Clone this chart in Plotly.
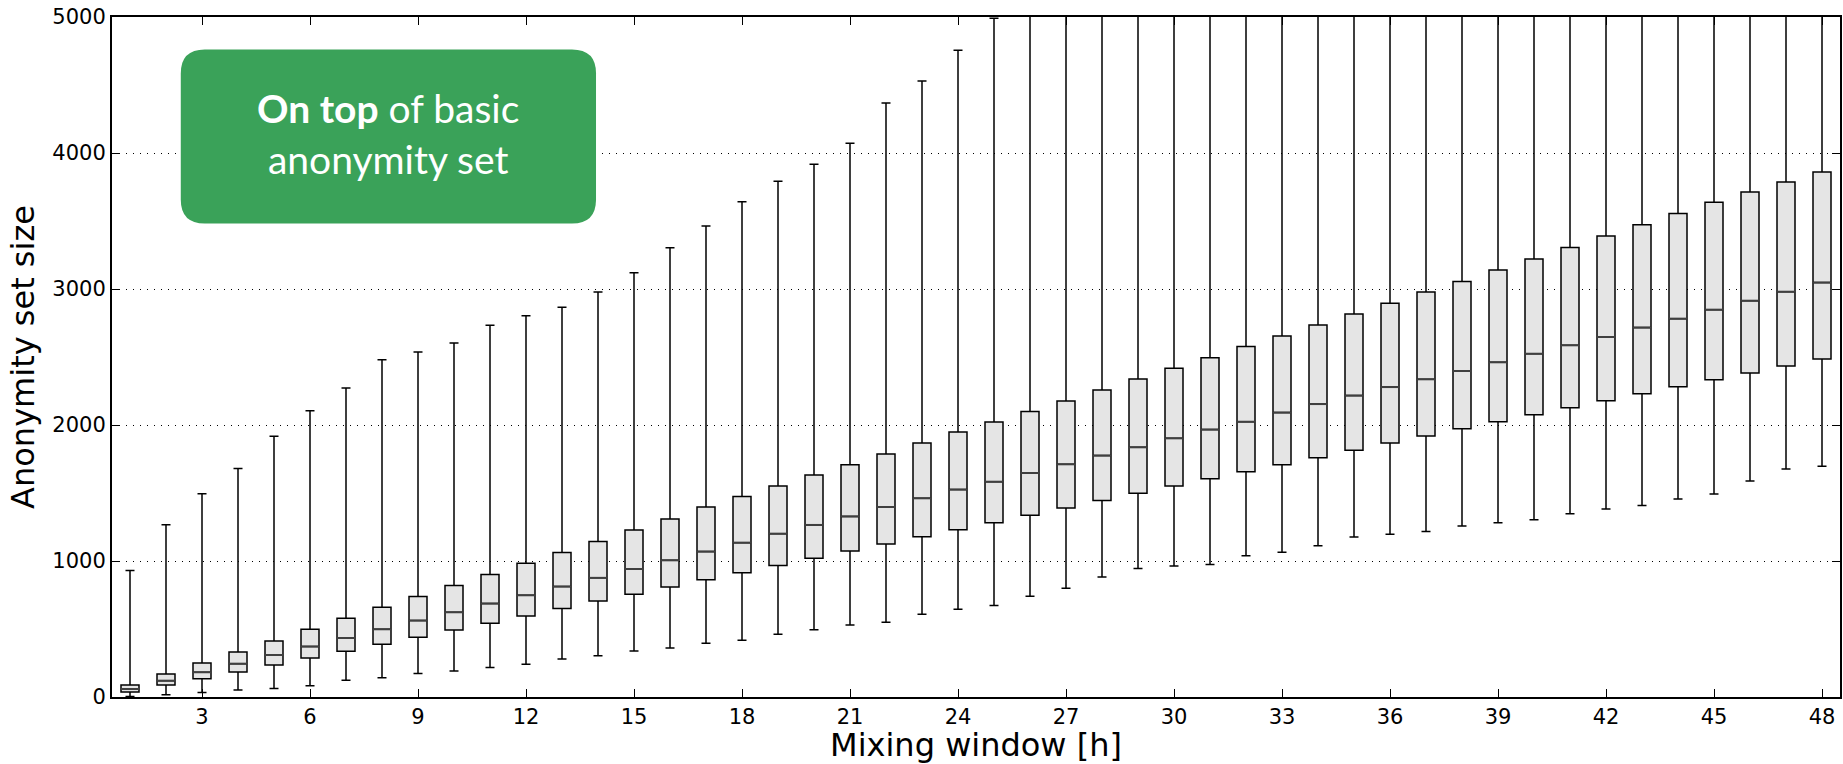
import plotly.graph_objects as go

# Mixing window length in hours
hours = list(range(1, 49))

# Distribution of the anonymity set size per mixing window
whisker_low = [3, 17, 34, 51, 63, 83, 123, 142, 172, 191, 216, 240, 280, 304, 338, 360,
               395, 417, 461, 495, 529, 549, 608, 645, 672, 740, 799, 882, 944, 963, 975, 1039,
               1064, 1113, 1176, 1196, 1216, 1257, 1282, 1304, 1348, 1382, 1409, 1456, 1493, 1588, 1676, 1696]
q1 = [37, 88, 135, 184, 236, 287, 336, 388, 439, 493, 542, 596, 650, 705, 755, 809,
      863, 914, 966, 1020, 1074, 1125, 1179, 1230, 1282, 1336, 1390, 1444, 1498, 1551, 1605, 1657,
      1708, 1760, 1814, 1868, 1919, 1973, 2024, 2076, 2127, 2179, 2230, 2282, 2333, 2382, 2434, 2485]
median = [59, 120, 182, 245, 309, 371, 434, 498, 562, 623, 687, 748, 812, 876, 941, 1005,
          1069, 1135, 1201, 1265, 1328, 1397, 1461, 1525, 1583, 1647, 1711, 1775, 1836, 1902, 1966, 2024,
          2091, 2154, 2216, 2279, 2336, 2397, 2461, 2524, 2586, 2647, 2716, 2782, 2848, 2914, 2980, 3047]
q3 = [88, 169, 250, 331, 412, 498, 579, 660, 739, 820, 901, 984, 1063, 1144, 1228, 1309,
      1397, 1475, 1551, 1632, 1708, 1787, 1868, 1949, 2022, 2100, 2176, 2257, 2338, 2417, 2495, 2578,
      2654, 2735, 2816, 2895, 2978, 3056, 3140, 3221, 3306, 3390, 3473, 3556, 3637, 3713, 3787, 3860]
whisker_high = [930, 1266, 1494, 1681, 1917, 2105, 2272, 2480, 2537, 2603, 2733, 2804, 2865, 2978, 3120, 3304,
                3463, 3642, 3792, 3917, 4071, 4368, 4529, 4755, 4990, 5180, 5370, 5520, 5690, 5850, 6020, 6180,
                6350, 6500, 6660, 6830, 6990, 7150, 7320, 7480, 7650, 7810, 7970, 8140, 8300, 8460, 8630, 8800]

x_ticks = list(range(3, 49, 3))
y_ticks = [0, 1000, 2000, 3000, 4000, 5000]

BOX_WIDTH = 0.5

fig = go.Figure()

fig.add_trace(go.Box(
    x=hours,
    lowerfence=whisker_low,
    q1=q1,
    median=median,
    q3=q3,
    upperfence=whisker_high,
    width=BOX_WIDTH,
    whiskerwidth=0.5,
    boxpoints=False,
    fillcolor="#e5e5e5",
    line=dict(color="black", width=1.5),
    showlegend=False,
    hoverinfo="skip",
))

# Median bars drawn over each box in a slightly lighter stroke
med_x, med_y = [], []
for h, m in zip(hours, median):
    med_x += [h - BOX_WIDTH / 2, h + BOX_WIDTH / 2, None]
    med_y += [m, m, None]
fig.add_trace(go.Scatter(
    x=med_x, y=med_y, mode="lines",
    line=dict(color="#404040", width=2),
    showlegend=False, hoverinfo="skip",
))

axis_font = dict(family="DejaVu Sans", size=21, color="black")
title_font = dict(family="DejaVu Sans", size=32, color="black")

fig.update_xaxes(
    range=[0.5, 48.5],
    tickmode="array", tickvals=x_ticks, ticktext=[str(t) for t in x_ticks],
    ticks="inside", ticklen=8, tickwidth=1.2, tickcolor="black",
    showline=True, linecolor="black", linewidth=2, mirror="ticks",
    showgrid=False, zeroline=False,
    tickfont=axis_font,
    title=dict(text="Mixing window [h]", font=title_font, standoff=5),
)
fig.update_yaxes(
    range=[0, 5000],
    tickmode="array", tickvals=y_ticks, ticktext=[str(t) for t in y_ticks],
    ticks="inside", ticklen=8, tickwidth=1.2, tickcolor="black",
    showline=True, linecolor="black", linewidth=2, mirror="ticks",
    showgrid=True, gridcolor="black", gridwidth=1, griddash="1px,6px",
    zeroline=False,
    tickfont=axis_font,
    title=dict(text="Anonymity set size", font=title_font, standoff=8),
)

# Rounded green callout box (paper coordinates)
x0, x1 = 0.0398, 0.2801
y0, y1 = 0.6962, 0.9522
rx, ry = 24 / 1728, 24 / 680
path = (
    f"M {x0 + rx},{y0} L {x1 - rx},{y0} Q {x1},{y0} {x1},{y0 + ry} "
    f"L {x1},{y1 - ry} Q {x1},{y1} {x1 - rx},{y1} "
    f"L {x0 + rx},{y1} Q {x0},{y1} {x0},{y1 - ry} "
    f"L {x0},{y0 + ry} Q {x0},{y0} {x0 + rx},{y0} Z"
)
fig.add_shape(type="path", path=path, xref="paper", yref="paper",
              fillcolor="#3aa259", line=dict(width=0), layer="above")
fig.add_annotation(
    x=(x0 + x1) / 2, y=(y0 + y1) / 2 + 0.004, xref="paper", yref="paper",
    xanchor="center", yanchor="middle",
    text="<b>On top</b> of basic<br>anonymity set",
    showarrow=False, align="center",
    font=dict(family="Lato", size=39, color="white"),
)

fig.update_layout(
    width=1843, height=764,
    margin=dict(l=112, r=3, t=17, b=67, autoexpand=False),
    paper_bgcolor="white", plot_bgcolor="white",
)

fig.write_html("out.html")
